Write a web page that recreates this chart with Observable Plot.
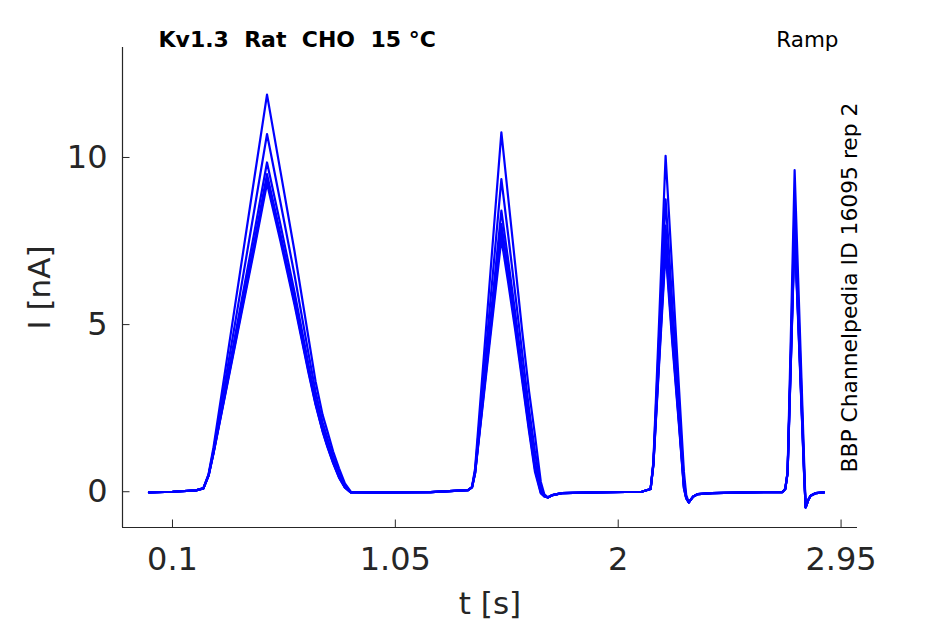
<!DOCTYPE html>
<html><head><meta charset="utf-8">
<script src="https://cdn.jsdelivr.net/npm/d3@7"></script>
<script src="https://cdn.jsdelivr.net/npm/@observablehq/plot@0.6"></script>
<style>
html,body{margin:0;padding:0;background:#fff;}
svg text{white-space:pre;}
</style></head><body><div id="chart"></div>
<script>
// time points [s] (4 ramps)
const time = [
  0.000, 0.10, 0.20, 0.232, 0.254, 0.275, 0.33, 0.39, 0.45, 0.503, 0.56, 0.62, 0.68, 0.71, 0.74, 0.76, 0.785, 0.81, 0.835, 0.86, 0.93,
  1.00, 1.20, 1.36, 1.377, 1.39, 1.42, 1.45, 1.48, 1.502, 1.53, 1.56, 1.59, 1.62, 1.645, 1.67, 1.685, 1.70, 1.72, 1.76, 1.90,
  2.10, 2.138, 2.15, 2.175, 2.202, 2.23, 2.26, 2.28, 2.29, 2.301, 2.32, 2.34, 2.40, 2.55,
  2.70, 2.712, 2.722, 2.737, 2.752, 2.767, 2.782, 2.793, 2.799, 2.81, 2.82, 2.843, 2.877
];
// current traces [nA]
const traceA = [
  -0.02, 0.00, 0.04, 0.11, 0.53, 1.33, 3.87, 6.65, 9.43, 11.88, 9.60, 7.20, 4.60, 3.30, 2.30, 1.82, 1.20, 0.70, 0.25, 0.00, -0.02,
  -0.02, -0.01, 0.05, 0.15, 0.70, 3.39, 6.08, 8.78, 10.75, 8.87, 6.86, 4.85, 3.00, 1.70, 0.30, -0.08, -0.17, -0.10, -0.04, -0.02,
  0.00, 0.08, 0.90, 5.20, 10.05, 6.66, 3.00, 0.60, -0.10, -0.32, -0.14, -0.07, -0.04, -0.02,
  -0.01, 0.08, 0.60, 5.00, 9.62, 6.40, 3.20, 0.80, -0.47, -0.25, -0.12, -0.04, -0.02
];
const traceB = [
  -0.02, 0.00, 0.04, 0.10, 0.51, 1.25, 3.52, 6.00, 8.48, 10.70, 8.67, 6.49, 4.13, 2.99, 2.08, 1.61, 1.04, 0.58, 0.19, -0.01, -0.02,
  -0.02, -0.01, 0.05, 0.14, 0.63, 2.97, 5.30, 7.64, 9.35, 7.74, 5.99, 4.19, 2.47, 1.22, 0.15, -0.11, -0.17, -0.10, -0.04, -0.02,
  0.00, 0.08, 0.86, 4.75, 8.75, 5.70, 2.50, 0.35, -0.17, -0.32, -0.14, -0.07, -0.04, -0.02,
  -0.01, 0.08, 0.58, 4.50, 8.60, 5.70, 2.80, 0.60, -0.47, -0.25, -0.12, -0.04, -0.02
];
const traceC = [
  -0.02, 0.00, 0.04, 0.10, 0.49, 1.19, 3.27, 5.54, 7.80, 9.85, 8.00, 5.98, 3.80, 2.77, 1.92, 1.46, 0.93, 0.49, 0.15, -0.02, -0.02,
  -0.02, -0.01, 0.05, 0.14, 0.59, 2.69, 4.78, 6.87, 8.41, 6.98, 5.41, 3.75, 2.12, 0.89, 0.04, -0.12, -0.17, -0.10, -0.04, -0.02,
  0.00, 0.08, 0.83, 4.30, 7.96, 5.10, 2.20, 0.20, -0.18, -0.32, -0.14, -0.07, -0.04, -0.02,
  -0.01, 0.08, 0.57, 4.30, 8.10, 5.40, 2.60, 0.50, -0.47, -0.25, -0.12, -0.04, -0.02
];
const traceD = [
  -0.02, 0.00, 0.04, 0.10, 0.49, 1.17, 3.16, 5.34, 7.51, 9.50, 7.72, 5.77, 3.66, 2.67, 1.85, 1.40, 0.89, 0.45, 0.13, -0.02, -0.02,
  -0.02, -0.01, 0.05, 0.13, 0.57, 2.57, 4.56, 6.55, 8.01, 6.66, 5.16, 3.56, 1.97, 0.76, 0.00, -0.13, -0.17, -0.10, -0.04, -0.02,
  0.00, 0.08, 0.82, 4.10, 7.60, 4.80, 2.05, 0.15, -0.19, -0.32, -0.14, -0.07, -0.04, -0.02,
  -0.01, 0.08, 0.56, 4.20, 7.90, 5.25, 2.50, 0.45, -0.47, -0.25, -0.12, -0.04, -0.02
];
const traceE = [
  -0.02, 0.00, 0.04, 0.10, 0.48, 1.16, 3.12, 5.26, 7.39, 9.35, 7.60, 5.68, 3.60, 2.63, 1.82, 1.37, 0.87, 0.43, 0.13, -0.02, -0.02,
  -0.02, -0.01, 0.05, 0.13, 0.56, 2.50, 4.45, 6.38, 7.81, 6.50, 5.03, 3.47, 1.89, 0.69, -0.02, -0.14, -0.17, -0.10, -0.04, -0.02,
  0.00, 0.08, 0.81, 4.00, 7.40, 4.65, 1.97, 0.12, -0.20, -0.32, -0.14, -0.07, -0.04, -0.02,
  -0.01, 0.08, 0.56, 4.15, 7.80, 5.20, 2.45, 0.43, -0.47, -0.25, -0.12, -0.04, -0.02
];
const traceF = [
  -0.02, 0.00, 0.04, 0.10, 0.48, 1.15, 3.08, 5.19, 7.29, 9.22, 7.50, 5.60, 3.55, 2.60, 1.80, 1.35, 0.85, 0.42, 0.12, -0.02, -0.02,
  -0.02, -0.01, 0.05, 0.13, 0.55, 2.43, 4.31, 6.18, 7.56, 6.30, 4.88, 3.35, 1.80, 0.60, -0.05, -0.14, -0.17, -0.10, -0.04, -0.02,
  0.00, 0.08, 0.80, 3.90, 7.20, 4.50, 1.90, 0.10, -0.20, -0.32, -0.14, -0.07, -0.04, -0.02,
  -0.01, 0.08, 0.55, 4.10, 7.70, 5.10, 2.40, 0.40, -0.47, -0.25, -0.12, -0.04, -0.02
];
const traceNames = ["A", "B", "C", "D", "E", "F"];
const xTicks = [0.1, 1.05, 2, 2.95];
const yTicks = [0, 5, 10];
const xDomain = [-0.113, 3.02];
const yDomain = [-1.07, 13.29];
const titleText = "Kv1.3  Rat  CHO  15 °C";
const protocolText = "Ramp";
const sideText = "BBP Channelpedia ID 16095 rep 2";

const series = [traceA, traceB, traceC, traceD, traceE, traceF];
const rows = series.flatMap((vals, k) => vals.map((v, i) => ({t: time[i], I: v, trace: traceNames[k]})));

const W = 945, H = 624, mL = 122, mR = 88, mT = 47, mB = 97;
const frameW = W - mL - mR, frameH = H - mT - mB;
const axisColor = "#262626";

const chart = Plot.plot({
  width: W, height: H,
  marginLeft: mL, marginRight: mR, marginTop: mT, marginBottom: mB,
  x: {domain: xDomain},
  y: {domain: yDomain},
  style: {fontFamily: "DejaVu Sans", color: axisColor, background: "white", overflow: "visible"},
  marks: [
    Plot.ruleX([xDomain[0]], {stroke: axisColor, strokeWidth: 1.2}),
    Plot.ruleY([yDomain[0]], {stroke: axisColor, strokeWidth: 1.2}),
    Plot.tickX(xTicks, {x: d => d, insetTop: frameH - 7.5, stroke: axisColor}),
    Plot.tickY(yTicks, {y: d => d, insetRight: frameW - 7.5, stroke: axisColor}),
    Plot.axisX(xTicks, {tickSize: 0, tickPadding: 20, fontSize: 32, tickFormat: d => String(d), label: null}),
    Plot.axisY(yTicks, {tickSize: 0, tickPadding: 15, fontSize: 32, tickFormat: d => String(d), label: null}),
    Plot.line(rows, {x: "t", y: "I", z: "trace", stroke: "#0000ff", strokeWidth: 2.2}),
    Plot.text(["t [s]"], {frameAnchor: "bottom", dy: 86, fontSize: 31, fill: axisColor}),
    Plot.text(["I [nA]"], {frameAnchor: "left", dx: -82, rotate: -90, textAnchor: "middle", fontSize: 31, fill: axisColor}),
    Plot.text([titleText], {frameAnchor: "top-left", dx: 36, dy: -1, textAnchor: "start", lineAnchor: "bottom", fontSize: 22, fontWeight: "bold", fill: "black"}),
    Plot.text([protocolText], {frameAnchor: "top-right", dx: -19, dy: -1, textAnchor: "end", lineAnchor: "bottom", fontSize: 21.5, fill: "black"}),
    Plot.text([sideText], {frameAnchor: "right", dx: -7, rotate: -90, textAnchor: "middle", fontSize: 21.8, fill: "black"})
  ]
});
document.getElementById("chart").appendChild(chart);
</script></body></html>
